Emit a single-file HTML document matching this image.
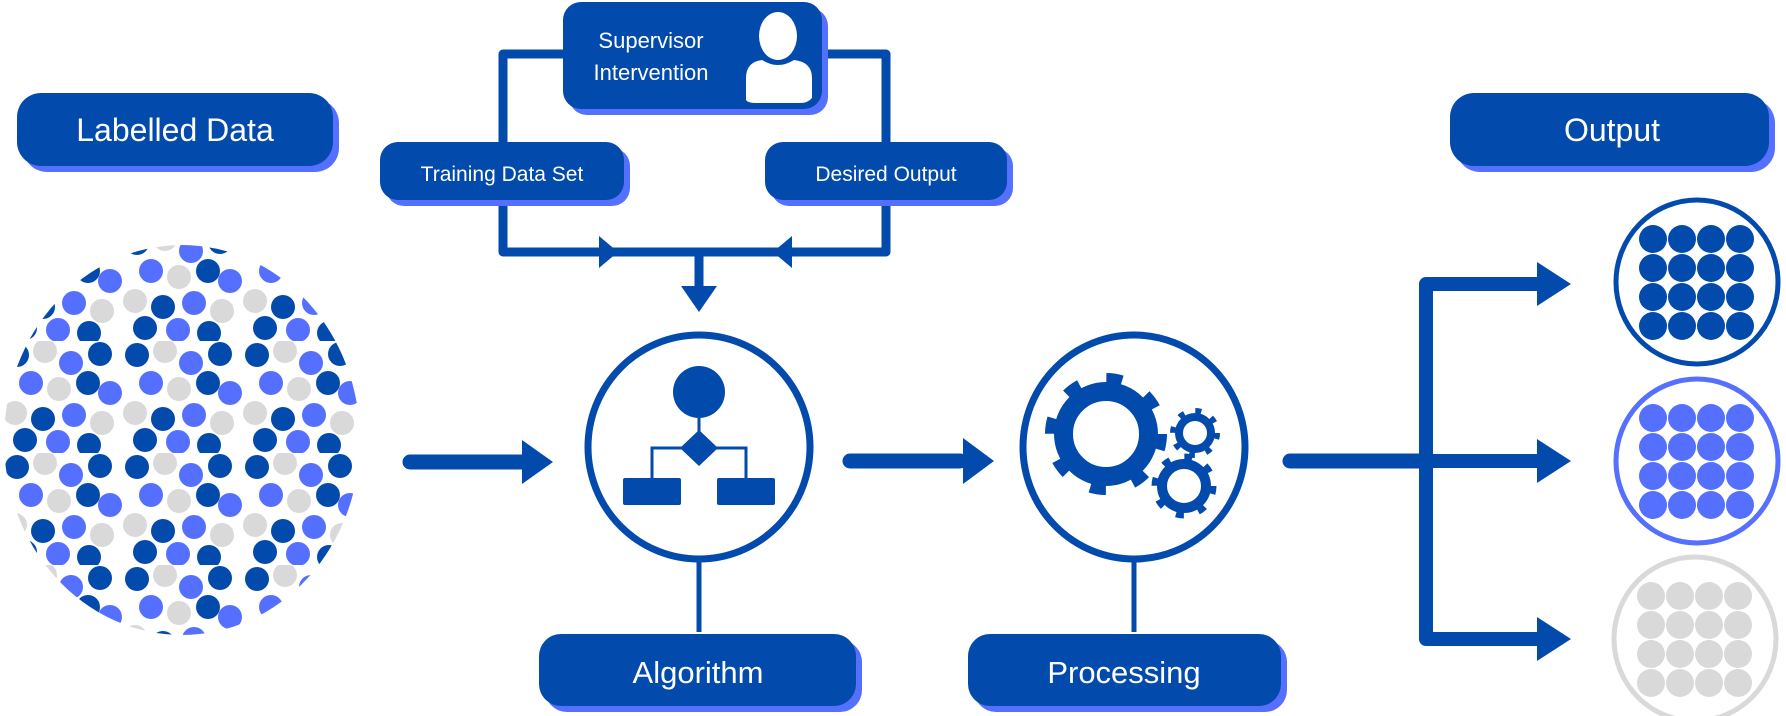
<!DOCTYPE html>
<html><head><meta charset="utf-8"><style>
html,body{margin:0;padding:0;background:#fff;}
svg{display:block;}
text{font-family:"Liberation Sans","DejaVu Sans",sans-serif;fill:#fff;}
</style></head><body>
<svg width="1786" height="716" viewBox="0 0 1786 716" xmlns="http://www.w3.org/2000/svg">
<defs>
<pattern id="dots" width="120" height="112" patternUnits="userSpaceOnUse" x="3" y="5">
<circle cx="14" cy="14" r="12" fill="#024bad"/>
<circle cx="42" cy="10" r="12" fill="#d9d9d9"/>
<circle cx="68" cy="22" r="12" fill="#5570ff"/>
<circle cx="97" cy="13" r="12" fill="#024bad"/>
<circle cx="28" cy="42" r="12" fill="#5570ff"/>
<circle cx="56" cy="48" r="12" fill="#d9d9d9"/>
<circle cx="85" cy="42" r="12" fill="#024bad"/>
<circle cx="107" cy="52" r="12" fill="#5570ff"/>
<circle cx="12" cy="72" r="12" fill="#d9d9d9"/>
<circle cx="40" cy="78" r="12" fill="#024bad"/>
<circle cx="71" cy="74" r="12" fill="#5570ff"/>
<circle cx="99" cy="82" r="12" fill="#d9d9d9"/>
<circle cx="22" cy="99" r="12" fill="#024bad"/>
<circle cx="55" cy="101" r="12" fill="#5570ff"/>
<circle cx="86" cy="104" r="12" fill="#024bad"/>
</pattern>
<clipPath id="blob"><ellipse cx="182" cy="440" rx="178" ry="195"/></clipPath>
</defs>

<rect x="0" y="240" width="370" height="400" fill="url(#dots)" clip-path="url(#blob)"/>

<rect x="23" y="99" width="316" height="73" rx="24" fill="#5570ff"/>
<rect x="17" y="93" width="316" height="73" rx="24" fill="#024bad"/>
<text x="175" y="141" font-size="32" text-anchor="middle">Labelled Data</text>

<rect x="1456" y="99" width="319" height="73" rx="24" fill="#5570ff"/>
<rect x="1450" y="93" width="319" height="73" rx="24" fill="#024bad"/>
<text x="1612" y="141" font-size="32" text-anchor="middle">Output</text>

<g fill="none" stroke="#024bad" stroke-width="9" stroke-linejoin="round">
<path d="M570 54 H503 V252 H886 V54 H815"/>
<path d="M699 252 V290"/>
</g>
<polygon points="599,236 618,252 599,268" fill="#024bad"/>
<polygon points="792,236 773,252 792,268" fill="#024bad"/>
<polygon points="681,286 717,286 699,312" fill="#024bad"/>

<rect x="569" y="8" width="259" height="107" rx="18" fill="#5570ff"/>
<rect x="563" y="2" width="259" height="107" rx="18" fill="#024bad"/>
<text x="651" y="48" font-size="22" text-anchor="middle">Supervisor</text>
<text x="651" y="80" font-size="22" text-anchor="middle">Intervention</text>
<ellipse cx="778" cy="36" rx="19" ry="24" fill="#fff"/>
<path d="M746 102 V78 Q746 62 762 60 Q778 70 794 60 Q812 62 812 78 V98 Q808 103 800 103 H756 Q748 103 746 100 Z" fill="#fff"/>

<rect x="386" y="148" width="244" height="58" rx="18" fill="#5570ff"/>
<rect x="380" y="142" width="244" height="58" rx="18" fill="#024bad"/>
<text x="502" y="181" font-size="21" text-anchor="middle">Training Data Set</text>
<rect x="771" y="148" width="242" height="58" rx="18" fill="#5570ff"/>
<rect x="765" y="142" width="242" height="58" rx="18" fill="#024bad"/>
<text x="886" y="181" font-size="21" text-anchor="middle">Desired Output</text>

<path d="M410 462 H530" stroke="#024bad" stroke-width="15" stroke-linecap="round"/>
<polygon points="522,440 553,462 522,484" fill="#024bad"/>

<ellipse cx="699" cy="447" rx="111" ry="112" fill="none" stroke="#024bad" stroke-width="7"/>
<line x1="699" y1="559" x2="699" y2="632" stroke="#024bad" stroke-width="5"/>
<circle cx="699" cy="392" r="26" fill="#024bad"/>
<line x1="699" y1="415" x2="699" y2="440" stroke="#024bad" stroke-width="3"/>
<polygon points="699,430 718,448 699,466 680,448" fill="#024bad"/>
<path d="M652 480 V448 H746 V480" fill="none" stroke="#024bad" stroke-width="3"/>
<rect x="623" y="478" width="58" height="27" rx="2" fill="#024bad"/>
<rect x="717" y="478" width="58" height="27" rx="2" fill="#024bad"/>

<rect x="545" y="640" width="317" height="72" rx="22" fill="#5570ff"/>
<rect x="539" y="634" width="317" height="72" rx="22" fill="#024bad"/>
<text x="698" y="683" font-size="31" text-anchor="middle">Algorithm</text>

<path d="M850 461 H960" stroke="#024bad" stroke-width="15" stroke-linecap="round"/>
<polygon points="963,438 994,461 963,484" fill="#024bad"/>

<ellipse cx="1134" cy="447" rx="111" ry="112" fill="none" stroke="#024bad" stroke-width="7"/>
<line x1="1134" y1="559" x2="1134" y2="632" stroke="#024bad" stroke-width="5"/>
<circle cx="1106" cy="434" r="42.5" fill="none" stroke="#024bad" stroke-width="19"/>
<circle cx="1106" cy="434" r="56" fill="none" stroke="#024bad" stroke-width="10" stroke-dasharray="16 28"/>
<circle cx="1195" cy="433" r="16" fill="none" stroke="#024bad" stroke-width="8"/>
<circle cx="1195" cy="433" r="22" fill="none" stroke="#024bad" stroke-width="6" stroke-dasharray="6 11.3"/>
<circle cx="1184" cy="486" r="22" fill="none" stroke="#024bad" stroke-width="10"/>
<circle cx="1184" cy="486" r="29" fill="none" stroke="#024bad" stroke-width="7" stroke-dasharray="8 14.8"/>

<rect x="974" y="640" width="313" height="72" rx="22" fill="#5570ff"/>
<rect x="968" y="634" width="313" height="72" rx="22" fill="#024bad"/>
<text x="1124" y="683" font-size="31" text-anchor="middle">Processing</text>

<g fill="none" stroke="#024bad" stroke-width="14" stroke-linejoin="round">
<path d="M1426 461 H1540"/>
<path d="M1540 284 H1426 V639 H1540"/>
</g>
<path d="M1290 461 H1426" stroke="#024bad" stroke-width="15" stroke-linecap="round"/>
<polygon points="1537,262 1571,284 1537,306" fill="#024bad"/>
<polygon points="1537,439 1571,461 1537,483" fill="#024bad"/>
<polygon points="1537,617 1571,639 1537,661" fill="#024bad"/>

<g>
<ellipse cx="1697" cy="282" rx="81" ry="82" fill="none" stroke="#024bad" stroke-width="5"/>
<g fill="#024bad">
<circle cx="1653" cy="239" r="14"/><circle cx="1682" cy="239" r="14"/><circle cx="1711" cy="239" r="14"/><circle cx="1740" cy="239" r="14"/>
<circle cx="1653" cy="268" r="14"/><circle cx="1682" cy="268" r="14"/><circle cx="1711" cy="268" r="14"/><circle cx="1740" cy="268" r="14"/>
<circle cx="1653" cy="297" r="14"/><circle cx="1682" cy="297" r="14"/><circle cx="1711" cy="297" r="14"/><circle cx="1740" cy="297" r="14"/>
<circle cx="1653" cy="326" r="14"/><circle cx="1682" cy="326" r="14"/><circle cx="1711" cy="326" r="14"/><circle cx="1740" cy="326" r="14"/>
</g>
<ellipse cx="1697" cy="461" rx="81" ry="82" fill="none" stroke="#5570ff" stroke-width="5"/>
<g fill="#5570ff">
<circle cx="1653" cy="418" r="14"/><circle cx="1682" cy="418" r="14"/><circle cx="1711" cy="418" r="14"/><circle cx="1740" cy="418" r="14"/>
<circle cx="1653" cy="447" r="14"/><circle cx="1682" cy="447" r="14"/><circle cx="1711" cy="447" r="14"/><circle cx="1740" cy="447" r="14"/>
<circle cx="1653" cy="476" r="14"/><circle cx="1682" cy="476" r="14"/><circle cx="1711" cy="476" r="14"/><circle cx="1740" cy="476" r="14"/>
<circle cx="1653" cy="505" r="14"/><circle cx="1682" cy="505" r="14"/><circle cx="1711" cy="505" r="14"/><circle cx="1740" cy="505" r="14"/>
</g>
<ellipse cx="1695" cy="639" rx="81" ry="82" fill="none" stroke="#d9d9d9" stroke-width="5"/>
<g fill="#d9d9d9">
<circle cx="1651" cy="596" r="14"/><circle cx="1680" cy="596" r="14"/><circle cx="1709" cy="596" r="14"/><circle cx="1738" cy="596" r="14"/>
<circle cx="1651" cy="625" r="14"/><circle cx="1680" cy="625" r="14"/><circle cx="1709" cy="625" r="14"/><circle cx="1738" cy="625" r="14"/>
<circle cx="1651" cy="654" r="14"/><circle cx="1680" cy="654" r="14"/><circle cx="1709" cy="654" r="14"/><circle cx="1738" cy="654" r="14"/>
<circle cx="1651" cy="683" r="14"/><circle cx="1680" cy="683" r="14"/><circle cx="1709" cy="683" r="14"/><circle cx="1738" cy="683" r="14"/>
</g>
</g>
</svg>
</body></html>
